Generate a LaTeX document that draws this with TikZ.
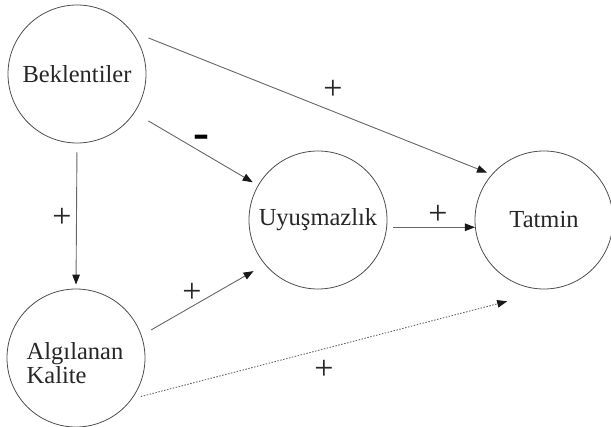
\documentclass[tikz,border=0pt]{standalone}
\usepackage{fontspec}
\setmainfont{Liberation Serif}
\usetikzlibrary{arrows.meta}
\tikzset{
  var/.style={circle, draw=black!70, line width=0.8pt, minimum size=138pt, inner sep=0pt, text=black!85,
    font=\fontsize{24.5}{20}\selectfont},
  lbl/.style={inner sep=0pt, text=black!85, font=\fontsize{24.5}{20}\selectfont},
  conn/.style={draw=black!60, line width=0.9pt, -{Triangle[length=10pt,width=7.5pt,black!90]}},
  dotconn/.style={conn, dash pattern=on 1.5pt off 1.5pt},
  sign/.style={inner sep=0pt, text=black!85, font=\fontsize{34}{34}\selectfont},
  minus/.style={inner sep=0pt, text=black, font=\fontsize{48}{48}\selectfont\bfseries}
}
\begin{document}
\begin{tikzpicture}[x=1pt,y=-1pt]
\useasboundingbox (0,0) rectangle (611,427);
\node[var] (B) at (77,74) {Beklentiler};
\node[var] (U) at (318,220) {Uyuşmazlık};
\node[var] (T) at (544,220) {Tatmin};
\node[var] (A) at (76,358) {};
\node[lbl, align=left] (At) at (75,363) {Algılanan\\Kalite};

\draw[conn, shorten <=18pt, shorten >=5pt] (B.38.2) -- (T.139.2);
\draw[conn, shorten <=16pt, shorten >=6pt] (B.-34) -- (U.150);
\draw[conn, shorten <=9pt, shorten >=4pt] (B.-90) -- (A.90);
\draw[conn, shorten <=6pt, shorten >=0pt] (U.-6) -- (T.186.8);
\draw[conn, shorten <=11pt, shorten >=13pt] (A.19) -- (U.220);
\draw[dotconn, shorten <=9pt, shorten >=55.4pt] (A.-36.8) -- (T.-76);

\node[sign] (s1) at (333,90) {+};
\node[minus] (s2) at (201,142) {-};
\node[sign] (s3) at (62,218) {+};
\node[sign] (s4) at (438,215) {+};
\node[sign] (s5) at (192,293) {+};
\node[sign] (s6) at (324,370) {+};
\end{tikzpicture}
\end{document}
